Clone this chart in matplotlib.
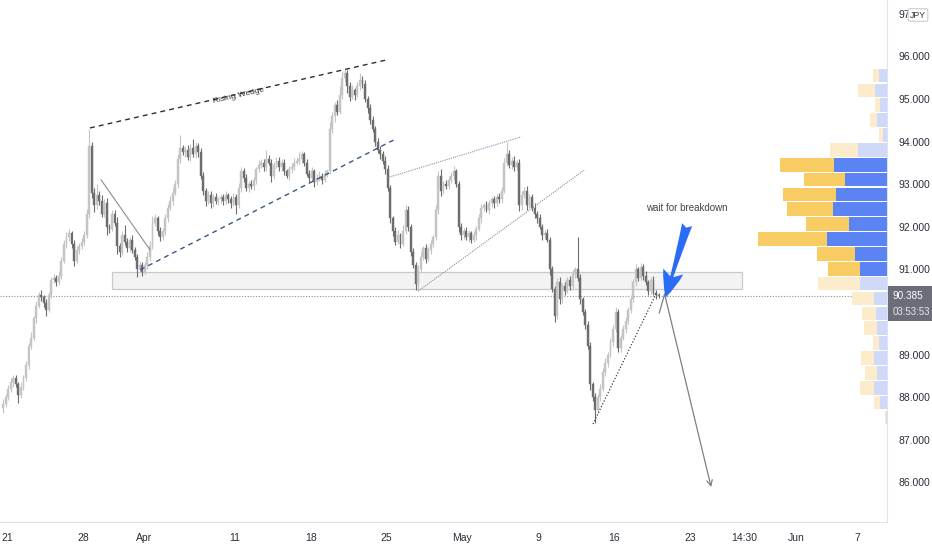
import numpy as np
import matplotlib.pyplot as plt
from matplotlib.patches import Rectangle

plt.rcParams['font.family'] = ['Liberation Sans Narrow', 'Liberation Sans', 'DejaVu Sans']

# AUDJPY 4h candles, index 0 = first candle of Mar 21
first_idx = -2
first_open = 87.75
closes = [87.85, 88.0,
          88.2, 88.35, 88.45, 88.3, 88.05, 88.25,
          88.45, 88.75, 89.2, 89.4, 89.85, 90.15,
          90.4, 90.35, 90.2, 90.05, 90.4, 90.75,
          90.8, 90.7, 90.85, 91.2, 91.6, 91.75,
          91.85, 91.6, 91.2, 91.45, 91.55, 91.65,
          91.8, 92.3, 93.9, 92.8, 92.5, 92.75,
          92.6, 92.3, 92.55, 92.0, 91.95, 92.3,
          92.1, 91.55, 91.4, 91.8, 91.65, 91.5,
          91.7, 91.45, 91.3, 91.0, 91.1, 90.95,
          91.1, 91.3, 91.55, 92.1, 92.2, 91.9,
          91.75, 91.9, 92.2, 92.45, 92.6, 92.8,
          93.0, 93.6, 93.85, 93.75, 93.8, 93.65,
          93.85, 93.7, 93.9, 93.75, 93.2, 92.85,
          92.6, 92.75, 92.55, 92.7, 92.6, 92.65,
          92.7, 92.6, 92.75, 92.65, 92.55, 92.7,
          92.5, 92.9, 93.3, 93.15, 92.9, 93.0,
          92.95, 93.1, 93.35, 93.45, 93.5, 93.4,
          93.6, 93.5, 93.2, 93.45, 93.55, 93.4,
          93.5, 93.3, 93.2, 93.35, 93.4, 93.5,
          93.55, 93.6, 93.7, 93.5, 93.25, 93.15,
          93.3, 93.05, 93.15, 93.2, 93.1, 93.25,
          93.3, 94.3, 94.6, 94.85, 94.7, 95.1,
          95.5, 95.6, 95.3, 95.05, 95.2, 95.1,
          95.3, 95.45, 95.35, 95.0, 94.8, 94.5,
          94.3, 94.0, 93.8, 93.7, 93.55, 93.35,
          92.9, 92.2, 91.9, 91.65, 91.8, 91.6,
          91.9, 92.4, 92.0, 91.4, 91.1, 90.65,
          91.0, 91.3, 91.5, 91.25, 91.45, 91.6,
          91.75, 92.4, 93.2, 92.85, 93.0, 92.95,
          93.1, 93.2, 93.3, 93.0, 92.0, 91.8,
          91.9, 91.75, 91.85, 91.7, 91.8, 91.95,
          92.2, 92.45, 92.5, 92.4, 92.55, 92.65,
          92.55, 92.7, 92.65, 92.85, 93.5, 93.7,
          93.45, 93.55, 93.4, 93.5, 92.5, 92.75,
          92.85, 92.5, 92.7, 92.45, 92.3, 92.2,
          92.0, 91.8, 91.85, 91.7, 91.0, 90.55,
          89.9, 90.7, 90.3, 90.6, 90.5, 90.75,
          90.6, 90.9, 91.0, 90.8, 90.3, 90.0,
          89.7, 89.2, 88.3, 88.0, 87.7, 88.0,
          88.2, 88.6, 88.8, 89.0, 89.3, 89.6,
          90.0, 89.15, 89.4, 89.6, 89.8, 90.05,
          90.3, 90.7, 91.0, 90.8, 91.05, 90.85,
          90.7, 90.5, 90.75, 90.45, 90.4, 90.385]
wick_hi = [0.10, 0.08,
           0.08, 0.10, 0.06, 0.08, 0.05, 0.10,
           0.06, 0.10, 0.08, 0.12, 0.06, 0.10,
           0.08, 0.12, 0.05, 0.10, 0.06, 0.08,
           0.10, 0.06, 0.12, 0.08, 0.10, 0.12,
           0.10, 0.05, 0.08, 0.10, 0.06, 0.08,
           0.10, 0.12, 0.40, 0.08, 0.10, 0.25,
           0.08, 0.15, 0.10, 0.12, 0.06, 0.10,
           0.10, 0.12, 0.08, 0.10, 0.25, 0.08,
           0.06, 0.10, 0.08, 0.05, 0.10, 0.08,
           0.08, 0.10, 0.12, 0.15, 0.10, 0.06,
           0.10, 0.08, 0.10, 0.08, 0.12, 0.10,
           0.10, 0.12, 0.30, 0.08, 0.10, 0.12,
           0.10, 0.20, 0.08, 0.06, 0.10, 0.08,
           0.06, 0.10, 0.08, 0.06, 0.10, 0.05,
           0.08, 0.06, 0.10, 0.05, 0.08, 0.10,
           0.06, 0.12, 0.10, 0.08, 0.10, 0.08,
           0.10, 0.08, 0.06, 0.12, 0.10, 0.08,
           0.20, 0.08, 0.10, 0.06, 0.08, 0.10,
           0.08, 0.10, 0.06, 0.08, 0.10, 0.12,
           0.10, 0.15, 0.08, 0.06, 0.10, 0.08,
           0.10, 0.06, 0.08, 0.10, 0.06, 0.08,
           0.06, 0.15, 0.10, 0.08, 0.12, 0.20,
           0.15, 0.10, 0.08, 0.10, 0.12, 0.06,
           0.10, 0.15, 0.08, 0.10, 0.06, 0.08,
           0.10, 0.06, 0.08, 0.10, 0.08, 0.12,
           0.10, 0.08, 0.06, 0.10, 0.12, 0.06,
           0.15, 0.10, 0.08, 0.06, 0.10, 0.08,
           0.10, 0.12, 0.06, 0.10, 0.08, 0.10,
           0.06, 0.10, 0.12, 0.15, 0.08, 0.10,
           0.10, 0.08, 0.12, 0.06, 0.08, 0.10,
           0.06, 0.10, 0.08, 0.06, 0.10, 0.08,
           0.10, 0.08, 0.06, 0.10, 0.08, 0.06,
           0.08, 0.06, 0.10, 0.08, 0.12, 0.28,
           0.10, 0.08, 0.12, 0.06, 0.10, 0.08,
           0.08, 0.10, 0.06, 0.08, 0.10, 0.06,
           0.10, 0.06, 0.08, 0.10, 0.06, 0.08,
           0.06, 0.10, 0.12, 0.08, 0.10, 0.08,
           0.10, 0.08, 0.06, 0.76, 0.10, 0.06,
           0.06, 0.08, 0.10, 0.06, 0.10, 0.08,
           0.10, 0.08, 0.12, 0.06, 0.08, 0.10,
           0.12, 0.08, 0.06, 0.10, 0.08, 0.06,
           0.10, 0.08, 0.12, 0.06, 0.10, 0.08,
           0.12, 0.06, 0.08, 0.10, 0.06, 0.05]
wick_lo = [0.12, 0.08,
           0.06, 0.08, 0.10, 0.06, 0.18, 0.08,
           0.08, 0.06, 0.10, 0.08, 0.06, 0.10,
           0.06, 0.10, 0.08, 0.15, 0.06, 0.08,
           0.08, 0.10, 0.06, 0.08, 0.06, 0.10,
           0.08, 0.10, 0.12, 0.06, 0.08, 0.06,
           0.08, 0.06, 0.10, 0.12, 0.15, 0.08,
           0.10, 0.08, 0.06, 0.20, 0.10, 0.06,
           0.08, 0.20, 0.10, 0.06, 0.08, 0.10,
           0.10, 0.06, 0.08, 0.18, 0.06, 0.10,
           0.06, 0.08, 0.10, 0.06, 0.08, 0.10,
           0.08, 0.06, 0.10, 0.08, 0.06, 0.10,
           0.06, 0.08, 0.10, 0.06, 0.12, 0.08,
           0.10, 0.06, 0.08, 0.10, 0.08, 0.10,
           0.12, 0.06, 0.10, 0.08, 0.06, 0.10,
           0.08, 0.10, 0.06, 0.08, 0.12, 0.06,
           0.20, 0.06, 0.08, 0.10, 0.06, 0.08,
           0.06, 0.08, 0.10, 0.06, 0.08, 0.10,
           0.08, 0.06, 0.15, 0.08, 0.06, 0.10,
           0.10, 0.08, 0.06, 0.10, 0.08, 0.06,
           0.06, 0.08, 0.10, 0.08, 0.06, 0.10,
           0.08, 0.12, 0.06, 0.08, 0.10, 0.06,
           0.08, 0.06, 0.10, 0.15, 0.08, 0.06,
           0.10, 0.08, 0.15, 0.10, 0.06, 0.12,
           0.06, 0.08, 0.10, 0.06, 0.12, 0.08,
           0.08, 0.10, 0.06, 0.12, 0.08, 0.10,
           0.06, 0.10, 0.12, 0.08, 0.06, 0.10,
           0.06, 0.08, 0.10, 0.08, 0.06, 0.13,
           0.10, 0.06, 0.08, 0.10, 0.06, 0.08,
           0.08, 0.06, 0.10, 0.12, 0.08, 0.06,
           0.06, 0.08, 0.10, 0.06, 0.12, 0.10,
           0.08, 0.06, 0.10, 0.08, 0.06, 0.10,
           0.06, 0.10, 0.08, 0.06, 0.10, 0.08,
           0.10, 0.06, 0.08, 0.10, 0.06, 0.08,
           0.06, 0.10, 0.08, 0.06, 0.12, 0.10,
           0.08, 0.10, 0.06, 0.08, 0.10, 0.12,
           0.06, 0.10, 0.08, 0.06, 0.12, 0.08,
           0.13, 0.06, 0.12, 0.08, 0.10, 0.06,
           0.08, 0.06, 0.10, 0.08, 0.12, 0.08,
           0.10, 0.08, 0.12, 0.10, 0.30, 0.06,
           0.08, 0.06, 0.10, 0.08, 0.06, 0.10,
           0.06, 0.10, 0.08, 0.06, 0.10, 0.08,
           0.08, 0.06, 0.10, 0.08, 0.06, 0.10,
           0.06, 0.10, 0.08, 0.06, 0.10, 0.05]

# date axis (one trading day = 6 candles)
tick_pos = [0, 30, 54, 90, 120, 150, 180, 210, 240, 270, 291.3, 312, 336]
tick_lab = ['21', '28', 'Apr', '11', '18', '25', 'May', '9', '16', '23', '14:30', 'Jun', '7']
price_ticks = [86, 87, 88, 89, 90, 91, 92, 93, 94, 95, 96, 97]
last_price = 90.385
countdown = '03:53:53'

# visible range volume profile, 24 rows from bottom to top
vp_low = 87.35
vp_step = 0.349
vol_up = [1.0, 6.7, 13.3, 10.0, 13.3, 8.3, 10.0, 11.0, 13.3, 27.3, 26.7, 32.3,
          60.3, 38.3, 53.7, 51.0, 41.7, 52.7, 29.3, 4.3, 10.0, 6.7, 11.7, 7.7]
vol_dn = [0.7, 6.7, 13.3, 11.7, 12.3, 5.7, 13.3, 14.0, 21.7, 42.0, 32.7, 37.7,
          69.0, 42.3, 46.3, 53.0, 41.0, 54.7, 28.0, 4.0, 6.7, 5.7, 17.3, 6.7]
value_area = range(10, 18)

# drawings: (candle index, price) pairs
wedge_top = [(32.8, 94.32), (150.2, 95.92)]
wedge_bottom = [(52.6, 90.99), (154.2, 94.08)]
flag_line = [(37.2, 93.10), (56.5, 91.46)]
wedge2_top = [(150.2, 93.15), (203.2, 94.11)]
wedge2_bottom = [(162.5, 90.49), (228.1, 93.33)]
low_trend = [(231.6, 87.37), (256.9, 90.47)]
zone = (41.5, 290.5, 90.54, 90.94)
path = [(257.8, 89.98), (259.9, 90.42), (278.3, 85.89)]
blue_arrow = [(268.8, 92.05), (260.3, 90.34)]

closes = np.array(closes)
opens = np.array([first_open] + list(closes[:-1]))
highs = np.maximum(opens, closes) + np.array(wick_hi)
lows = np.minimum(opens, closes) - np.array(wick_lo)
xs = np.arange(len(closes)) + first_idx + 0.5
up = closes >= opens

fig = plt.figure(figsize=(9.32, 5.5), dpi=100)
ax = fig.add_axes([0, 28 / 550, 887 / 932, 522 / 550])

c_up, c_dn = '#c4c4c4', '#6d6d6d'
cols = np.where(up, c_up, c_dn)
ax.vlines(xs, lows, highs, colors=cols, lw=0.8, zorder=3)
body_lo = np.minimum(opens, closes)
body_h = np.maximum(np.abs(closes - opens), 0.02)
ax.bar(xs, body_h, bottom=body_lo, width=0.75, color=cols, edgecolor=cols, lw=0.3, zorder=3)

# support zone
ax.add_patch(Rectangle((zone[0], zone[2]), zone[1] - zone[0], zone[3] - zone[2],
                       fc='#f3f3f4', ec='#c8cacf', lw=0.9, zorder=2))
ax.axhline(last_price, color='#8a8d96', lw=0.8, ls=(0, (1, 1.5)), zorder=2)

def seg(pts, **kw):
    ax.plot([p[0] for p in pts], [p[1] for p in pts], **kw)

seg(wedge_top, color='#2f2f2f', lw=1.0, ls=(0, (3.5, 3)), zorder=4)
seg(wedge_bottom, color='#3b5586', lw=1.0, ls=(0, (3.5, 3)), zorder=4)
seg(flag_line, color='#8d8d8d', lw=0.8, zorder=4)
seg(wedge2_top, color='#8494b0', lw=0.8, ls=(0, (1, 1)), zorder=4)
seg(wedge2_bottom, color='#8e8e94', lw=0.8, ls=(0, (1, 1)), zorder=4)
seg(low_trend, color='#404040', lw=0.9, ls=(0, (1, 1.5)), zorder=4)
seg(path[:2], color='#808080', lw=0.9, zorder=4)
ax.annotate('', xy=path[2], xytext=path[1],
            arrowprops=dict(arrowstyle='->,head_length=0.4,head_width=0.2', color='#808080', lw=0.9,
                            shrinkA=0, shrinkB=0), zorder=4)
ax.annotate('', xy=blue_arrow[1], xytext=blue_arrow[0],
            arrowprops=dict(arrowstyle='fancy,head_length=1.3,head_width=1.0,tail_width=0.5',
                            fc='#2b6cf6', ec='none', mutation_scale=15, shrinkA=0, shrinkB=0), zorder=5)

ax.text(91.5, 95.08, 'Rising Wedge', fontsize=6, color='#333333', rotation=13,
        ha='center', va='center', rotation_mode='anchor')
ax.text(268.5, 92.45, 'wait for breakdown', fontsize=7, color='#444444', ha='center', va='center')

# volume profile on the right edge
vp = ax.twiny()
vp.set_xlim(887, 0)
vp.set_ylim(85.07, 97.324)
vp.axis('off')
for i in range(len(vol_up)):
    yc = vp_low + vp_step * (i + 0.5)
    strong = i in value_area
    cb = '#5a83f3' if strong else '#cfdafb'
    cy = '#f9cc63' if strong else '#fdeccb'
    vp.barh(yc, vol_up[i], height=vp_step * 0.92, left=0, color=cb, lw=0)
    vp.barh(yc, vol_dn[i], height=vp_step * 0.92, left=vol_up[i], color=cy, lw=0)

ax.set_xlim(-2.77, 347.8)
ax.set_ylim(85.07, 97.324)
ax.set_xticks(tick_pos)
ax.set_xticklabels(tick_lab)
ax.yaxis.tick_right()
ax.set_yticks(price_ticks)
# top label is partly hidden by the currency badge, 90.000 by the last price tag
ylabs = ['%.3f' % p for p in price_ticks]
ylabs[-1] = '%d' % price_ticks[-1]
ylabs[price_ticks.index(90)] = ''
ax.set_yticklabels(ylabs)
ax.tick_params(axis='x', length=0, pad=8, labelsize=7.5, colors='#2a2e39')
ax.tick_params(axis='y', length=0, pad=8, labelsize=7.5, colors='#2a2e39')
for s in ['top', 'left']:
    ax.spines[s].set_visible(False)
for s in ['right', 'bottom']:
    ax.spines[s].set_color('#e0e3eb')
    ax.spines[s].set_linewidth(0.8)

# last price tag
tr = ax.get_yaxis_transform()
ax.add_patch(Rectangle((1.001, last_price - 0.6), 0.052, 0.82, transform=tr,
                       fc='#6b6e78', ec='none', clip_on=False, zorder=6))
ax.text(1.006, last_price, '%.3f' % last_price, transform=tr, fontsize=7.2, color='white',
        va='center', ha='left', zorder=7, clip_on=False)
ax.text(1.006, last_price - 0.38, countdown, transform=tr, fontsize=7, color='#e6e6e6',
        va='center', ha='left', zorder=7, clip_on=False)

fig.text(918 / 932, 1 - 15 / 550, 'JPY', fontsize=6.3, color='#333333', ha='center', va='center',
         bbox=dict(boxstyle='round,pad=0.2', fc='white', ec='#c9ccd4', lw=0.8))

fig.savefig('out.png', dpi=100, facecolor='white')
